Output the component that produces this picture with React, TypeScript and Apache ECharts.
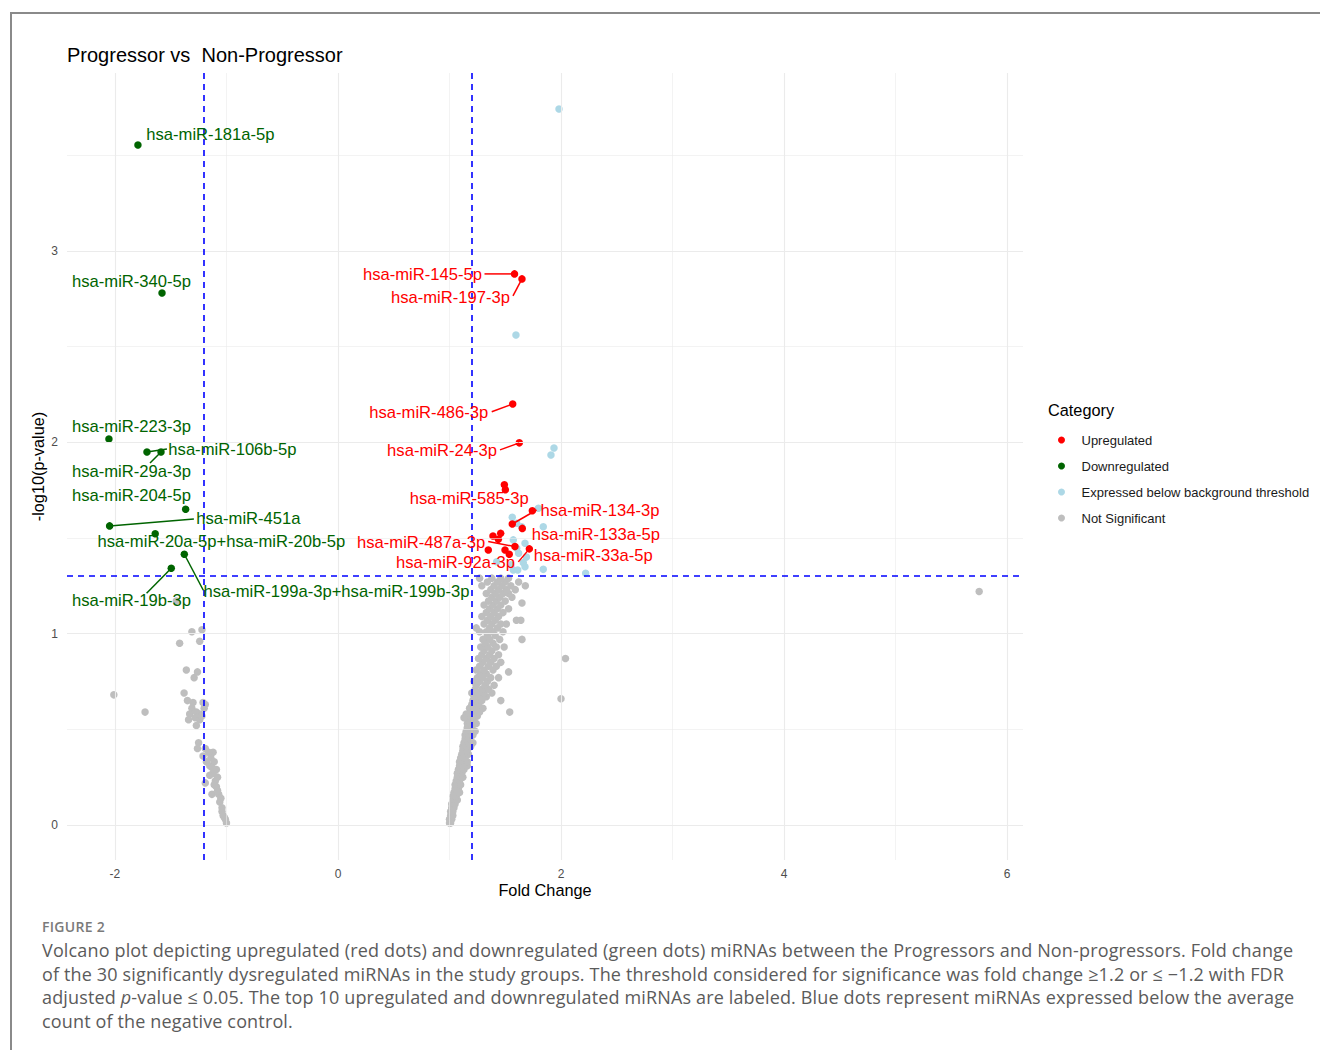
import React, { useEffect, useRef } from "react";
import * as echarts from "echarts";

const TITLE = "Progressor vs  Non-Progressor";
const X_NAME = "Fold Change";
const Y_NAME = "-log10(p-value)";
const LEGEND_TITLE = "Category";
const CATEGORIES = [
  "Upregulated",
  "Downregulated",
  "Expressed below background threshold",
  "Not Significant",
];
const X_TICKS = [-2, 0, 2, 4, 6];
const Y_TICKS = [0, 1, 2, 3];
const X_MINOR = [-1, 1, 3, 5];
const Y_MINOR = [0.5, 1.5, 2.5, 3.5];
const FC_THRESHOLDS = [-1.2, 1.2];
const P_THRESHOLD = 1.301;

// [fold change, -log10 p, label]
const upregulated: [number, number, string][] = [
  [1.583, 2.88, "hsa-miR-145-5p"],
  [1.65, 2.854, "hsa-miR-197-3p"],
  [1.567, 2.2, "hsa-miR-486-3p"],
  [1.626, 1.997, "hsa-miR-24-3p"],
  [1.492, 1.778, ""],
  [1.501, 1.752, "hsa-miR-585-3p"],
  [1.743, 1.642, ""],
  [1.563, 1.573, "hsa-miR-134-3p"],
  [1.653, 1.55, "hsa-miR-133a-5p"],
  [1.459, 1.524, ""],
  [1.438, 1.493, ""],
  [1.39, 1.51, ""],
  [1.587, 1.455, "hsa-miR-487a-3p"],
  [1.716, 1.443, "hsa-miR-92a-3p"],
  [1.348, 1.437, ""],
  [1.498, 1.437, ""],
  [1.536, 1.415, "hsa-miR-33a-5p"],
];

const downregulated: [number, number, string][] = [
  [-1.794, 3.554, "hsa-miR-181a-5p"],
  [-1.578, 2.78, "hsa-miR-340-5p"],
  [-2.054, 2.017, "hsa-miR-223-3p"],
  [-1.713, 1.949, "hsa-miR-106b-5p"],
  [-1.587, 1.949, "hsa-miR-29a-3p"],
  [-1.366, 1.65, "hsa-miR-204-5p"],
  [-2.048, 1.563, "hsa-miR-451a"],
  [-1.639, 1.522, "hsa-miR-20a-5p+hsa-miR-20b-5p"],
  [-1.378, 1.415, "hsa-miR-199a-3p+hsa-miR-199b-3p"],
  [-1.495, 1.342, "hsa-miR-19b-3p"],
];

const belowBackground: [number, number][] = [
  [1.982, 3.742], [1.596, 2.561], [1.937, 1.97], [1.91, 1.934],
  [1.797, 1.655], [1.563, 1.608], [1.603, 1.577], [1.647, 1.559],
  [1.841, 1.559], [1.572, 1.49], [1.677, 1.472], [1.603, 1.446],
  [1.662, 1.371], [1.677, 1.35], [1.572, 1.333], [1.612, 1.333],
  [1.841, 1.336], [2.221, 1.315], [1.423, 1.376], [1.62, 1.42],
  [1.69, 1.4], [1.55, 1.36],
];

const notSignificant: [number, number][] = [
  // left arm
  [-2.01, 0.68], [-1.73, 0.59], [-1.45, 1.17], [-1.42, 0.95], [-1.31, 1.01],
  [-1.24, 0.96], [-1.22, 1.02], [-1.36, 0.81], [-1.29, 0.77], [-1.26, 0.8],
  [-1.38, 0.69], [-1.35, 0.65], [-1.21, 0.64], [-1.19, 0.63], [-1.31, 0.61],
  [-1.33, 0.58], [-1.27, 0.59], [-1.24, 0.58], [-1.34, 0.55], [-1.28, 0.56],
  [-1.24, 0.55], [-1.27, 0.52], [-1.25, 0.43], [-1.26, 0.4], [-1.19, 0.4],
  [-1.12, 0.38], [-1.21, 0.36], [-1.18, 0.33], [-1.15, 0.31], [-1.09, 0.29],
  [-1.12, 0.27], [-1.19, 0.22], [-1.1, 0.23], [-1.09, 0.2], [-1.13, 0.16],
  [-1.07, 0.16], [-1.06, 0.12], [-1.04, 0.09], [-1.04, 0.07], [-1.02, 0.04],
  [-1.0, 0.01], [-1.16, 0.38], [-1.14, 0.35], [-1.11, 0.33], [-1.13, 0.3],
  [-1.08, 0.25], [-1.15, 0.26], [-1.11, 0.21], [-1.08, 0.18], [-1.05, 0.14],
  [-1.03, 0.05], [-1.01, 0.03], [-1.2, 0.61], [-1.22, 0.57], [-1.3, 0.64],
  // right arm
  [1.0, 0.01], [1.01, 0.01], [1.0, 0.03], [1.02, 0.03], [1.01, 0.05], [1.03, 0.05],
  [1.01, 0.07], [1.03, 0.07], [1.02, 0.09], [1.04, 0.09], [1.02, 0.11], [1.05, 0.11],
  [1.03, 0.13], [1.05, 0.13], [1.07, 0.13], [1.03, 0.15], [1.06, 0.15],
  [1.04, 0.17], [1.07, 0.17], [1.09, 0.17], [1.05, 0.19], [1.08, 0.19],
  [1.05, 0.21], [1.07, 0.21], [1.1, 0.21], [1.06, 0.23], [1.09, 0.23],
  [1.07, 0.25], [1.1, 0.25], [1.12, 0.25], [1.07, 0.27], [1.11, 0.27],
  [1.08, 0.29], [1.1, 0.29], [1.13, 0.29], [1.09, 0.31], [1.12, 0.31], [1.16, 0.31],
  [1.09, 0.33], [1.13, 0.33], [1.16, 0.33], [1.1, 0.35], [1.14, 0.35],
  [1.11, 0.37], [1.13, 0.37], [1.17, 0.37], [1.12, 0.39], [1.16, 0.39],
  [1.12, 0.41], [1.15, 0.41], [1.19, 0.41], [1.13, 0.43], [1.17, 0.43], [1.21, 0.43],
  [1.14, 0.45], [1.18, 0.45], [1.14, 0.47], [1.17, 0.47], [1.21, 0.47],
  [1.15, 0.49], [1.19, 0.49], [1.23, 0.49], [1.16, 0.51], [1.2, 0.51],
  [1.16, 0.53], [1.19, 0.53], [1.24, 0.53], [1.17, 0.55], [1.22, 0.55],
  [1.15, 0.57], [1.18, 0.57], [1.25, 0.57], [1.19, 0.59], [1.22, 0.59], [1.27, 0.59], [1.54, 0.59],
  [1.18, 0.61], [1.24, 0.61], [1.3, 0.61], [1.2, 0.63], [1.26, 0.63],
  [1.21, 0.65], [1.24, 0.65], [1.29, 0.65], [1.46, 0.65], [1.22, 0.67], [1.28, 0.67], [1.33, 0.67],
  [1.2, 0.69], [1.25, 0.69], [1.31, 0.69], [1.38, 0.69], [1.23, 0.71], [1.29, 0.71], [1.35, 0.71],
  [1.24, 0.73], [1.32, 0.73], [1.4, 0.73], [1.22, 0.75], [1.27, 0.75], [1.34, 0.75],
  [1.25, 0.77], [1.3, 0.77], [1.37, 0.77], [1.44, 0.77], [1.28, 0.79], [1.33, 0.79], [1.53, 0.8],
  [1.24, 0.81], [1.31, 0.81], [1.39, 0.81], [1.27, 0.83], [1.35, 0.83], [1.42, 0.83],
  [1.3, 0.85], [1.37, 0.85], [1.46, 0.85], [1.26, 0.87], [1.33, 0.87], [1.4, 0.87],
  [1.29, 0.89], [1.36, 0.89], [1.44, 0.89], [1.31, 0.91], [1.38, 0.91],
  [1.28, 0.93], [1.34, 0.93], [1.42, 0.93], [1.49, 0.93], [1.32, 0.95], [1.39, 0.95],
  [1.3, 0.97], [1.36, 0.97], [1.45, 0.97], [1.65, 0.97], [1.34, 0.99], [1.41, 0.99],
  [1.27, 1.01], [1.33, 1.01], [1.39, 1.01], [1.48, 1.01], [1.24, 1.03], [1.36, 1.03], [1.43, 1.03],
  [1.31, 1.05], [1.38, 1.05], [1.46, 1.05], [1.51, 1.05], [1.34, 1.07], [1.41, 1.07], [1.6, 1.07], [1.64, 1.07],
  [1.29, 1.09], [1.37, 1.09], [1.44, 1.09], [1.33, 1.11], [1.4, 1.11], [1.48, 1.11],
  [1.36, 1.13], [1.43, 1.13], [1.53, 1.13], [1.31, 1.15], [1.39, 1.15], [1.46, 1.15], [1.65, 1.16],
  [1.35, 1.17], [1.42, 1.17], [1.5, 1.17], [1.38, 1.19], [1.45, 1.19], [1.56, 1.19],
  [1.33, 1.21], [1.41, 1.21], [1.48, 1.21], [1.53, 1.21], [1.37, 1.23], [1.44, 1.23], [1.51, 1.23], [1.59, 1.23],
  [1.29, 1.25], [1.4, 1.25], [1.47, 1.25], [1.55, 1.25], [1.68, 1.25],
  [1.34, 1.27], [1.43, 1.27], [1.5, 1.27], [1.62, 1.27], [1.27, 1.29], [1.38, 1.29], [1.46, 1.29], [1.53, 1.29],
  [1.15, 0.58], [1.13, 0.56], [2.04, 0.87], [2.0, 0.66], [5.75, 1.22],
];

// label placement: text-centre offset (dx, dy) and optional segment end (sx, sy), in pixels from the point
const LABEL_LAYOUT: Record<string, [number, number, number | null, number | null]> = {
  "hsa-miR-181a-5p": [72.5, -10, null, null],
  "hsa-miR-340-5p": [-30.5, -12, null, null],
  "hsa-miR-223-3p": [22.5, -13, null, null],
  "hsa-miR-106b-5p": [85.5, -3, 20, -3],
  "hsa-miR-29a-3p": [-29.5, 19, -11, 11],
  "hsa-miR-204-5p": [-54.2, -13.3, null, null],
  "hsa-miR-451a": [138.8, -7, 84.3, -7],
  "hsa-miR-20a-5p+hsa-miR-20b-5p": [66.2, 7.8, null, null],
  "hsa-miR-199a-3p+hsa-miR-199b-3p": [152.2, 37.7, 19, 36],
  "hsa-miR-19b-3p": [-39.8, 32.7, -24.7, 25],
  "hsa-miR-145-5p": [-92, 1, -30, 0],
  "hsa-miR-197-3p": [-71.5, 19, -9, 17],
  "hsa-miR-486-3p": [-83.9, 8.7, -21, 7.7],
  "hsa-miR-24-3p": [-77.3, 8, -19.3, 7],
  "hsa-miR-585-3p": [-36.1, 8.3, null, null],
  "hsa-miR-134-3p": [87.7, -13, 24.3, -14],
  "hsa-miR-133a-5p": [73.5, 5.7, null, null],
  "hsa-miR-487a-3p": [-93.8, -4.4, -26.7, -5],
  "hsa-miR-92a-3p": [-73.8, 13.7, -11, 13],
  "hsa-miR-33a-5p": [84, 1.7, null, null],
};

const CAPTION_HEAD = "FIGURE 2";
const CAPTION_LINES = [
  "Volcano plot depicting upregulated (red dots) and downregulated (green dots) miRNAs between the Progressors and Non-progressors. Fold change",
  "of the 30 significantly dysregulated miRNAs in the study groups. The threshold considered for significance was fold change \u22651.2 or \u2264 \u22121.2 with FDR",
  "adjusted p-value \u2264 0.05. The top 10 upregulated and downregulated miRNAs are labeled. Blue dots represent miRNAs expressed below the average",
  "count of the negative control.",
];

const COLORS = ["#FF0000", "#006400", "#ADD8E6", "#BEBEBE"];
const FONT = '"Liberation Sans", Arial, sans-serif';

export default function App() {
  const ref = useRef<HTMLDivElement>(null);

  useEffect(() => {
    if (!ref.current) return;
    const chart = echarts.init(ref.current, null, { renderer: "svg" });

    const labeled = [
      ...upregulated.filter((d) => d[2]).map((d) => ({ value: [d[0], d[1]], name: d[2], color: COLORS[0] })),
      ...downregulated.filter((d) => d[2]).map((d) => ({ value: [d[0], d[1]], name: d[2], color: COLORS[1] })),
    ];

    const gridLine = (axis: "xAxis" | "yAxis", v: number, major: boolean) => ({
      [axis]: v,
      lineStyle: { color: "#EBEBEB", width: major ? 1.1 : 0.6, type: "solid" },
    });

    const option: any = {
      animation: false,
      textStyle: { fontFamily: FONT },
      title: {
        text: TITLE,
        left: 62,
        top: 40,
        textStyle: { fontFamily: FONT, fontSize: 20, fontWeight: "normal", color: "#000" },
      },
      graphic: [
        {
          type: "text",
          left: 1048,
          top: 402,
          style: { text: LEGEND_TITLE, fontFamily: FONT, fontSize: 16.3, fill: "#000" },
        },
      ],
      legend: {
        orient: "vertical",
        left: 1053,
        top: 427,
        icon: "circle",
        itemWidth: 30,
        itemHeight: 7,
        itemGap: 10,
        data: CATEGORIES,
        selectedMode: false,
        textStyle: { fontFamily: FONT, fontSize: 13, color: "#1a1a1a", lineHeight: 16, padding: [0, 0, 0, 0] },
      },
      grid: { left: 67, top: 73, width: 956, height: 787 },
      xAxis: {
        type: "value",
        min: -2.43,
        max: 6.143,
        name: X_NAME,
        nameLocation: "middle",
        nameGap: 22,
        nameMoveOverlap: false,
        nameTextStyle: { fontFamily: FONT, fontSize: 16.3, color: "#000", verticalAlign: "top" },
        axisLine: { show: false },
        axisTick: { show: false, customValues: X_TICKS },
        splitLine: { show: false },
        axisLabel: { customValues: X_TICKS, color: "#4D4D4D", fontSize: 12, fontFamily: FONT, margin: 8 },
      },
      yAxis: {
        type: "value",
        min: -0.183,
        max: 3.93,
        name: Y_NAME,
        nameLocation: "middle",
        nameGap: 21,
        nameMoveOverlap: false,
        nameRotate: 90,
        nameTextStyle: { fontFamily: FONT, fontSize: 16.3, color: "#000", verticalAlign: "bottom" },
        axisLine: { show: false },
        axisTick: { show: false, customValues: Y_TICKS },
        splitLine: { show: false },
        axisLabel: { customValues: Y_TICKS, color: "#4D4D4D", fontSize: 12, fontFamily: FONT, margin: 9 },
      },
      series: [
        {
          type: "scatter",
          name: "__grid",
          data: [],
          silent: true,
          z: 0,
          markLine: {
            silent: true,
            symbol: ["none", "none"],
            label: { show: false },
            animation: false,
            data: [
              ...X_MINOR.map((v) => gridLine("xAxis", v, false)),
              ...Y_MINOR.map((v) => gridLine("yAxis", v, false)),
              ...X_TICKS.map((v) => gridLine("xAxis", v, true)),
              ...Y_TICKS.map((v) => gridLine("yAxis", v, true)),
            ],
          },
        },
        {
          type: "scatter",
          name: CATEGORIES[3],
          data: notSignificant,
          symbolSize: 7.5,
          itemStyle: { color: COLORS[3], opacity: 1 },
          z: 2,
        },
        {
          type: "scatter",
          name: CATEGORIES[2],
          data: belowBackground,
          symbolSize: 7.5,
          itemStyle: { color: COLORS[2], opacity: 1 },
          z: 3,
        },
        {
          type: "scatter",
          name: CATEGORIES[0],
          data: upregulated.map((d) => [d[0], d[1]]),
          symbolSize: 7.5,
          itemStyle: { color: COLORS[0], opacity: 1 },
          z: 4,
        },
        {
          type: "scatter",
          name: CATEGORIES[1],
          data: downregulated.map((d) => [d[0], d[1]]),
          symbolSize: 7.5,
          itemStyle: { color: COLORS[1], opacity: 1 },
          z: 4,
        },
        {
          type: "scatter",
          name: "__thresholds",
          data: [],
          silent: true,
          z: 5,
          markLine: {
            silent: true,
            symbol: ["none", "none"],
            label: { show: false },
            animation: false,
            lineStyle: { color: "#0000FF", width: 1.6, type: [6, 5] },
            data: [
              ...FC_THRESHOLDS.map((v) => ({ xAxis: v })),
              { yAxis: P_THRESHOLD },
            ],
          },
        },
        {
          type: "custom",
          name: "__labels",
          silent: true,
          z: 10,
          data: labeled.map((d) => ({ value: d.value, name: d.name })),
          renderItem: (params: any, api: any) => {
            const d = labeled[params.dataIndex];
            const lay = LABEL_LAYOUT[d.name] || [0, -12, null, null];
            const p = api.coord([api.value(0), api.value(1)]);
            const children: any[] = [];
            if (lay[2] !== null && lay[3] !== null) {
              children.push({
                type: "line",
                shape: { x1: p[0], y1: p[1], x2: p[0] + (lay[2] as number), y2: p[1] + (lay[3] as number) },
                style: { stroke: d.color, lineWidth: 1.5 },
              });
            }
            children.push({
              type: "text",
              x: p[0] + lay[0],
              y: p[1] + lay[1],
              style: {
                text: d.name,
                fill: d.color,
                fontFamily: FONT,
                fontSize: 16.6,
                align: "center",
                verticalAlign: "middle",
              },
            });
            return { type: "group", children };
          },
        },
      ],
    };

    chart.setOption(option);
    return () => chart.dispose();
  }, []);

  return (
    <div style={{ position: "fixed", left: 0, top: 0, width: 1320, height: 1050, background: "#fff", overflow: "hidden" }}>
      <div
        style={{
          position: "absolute",
          left: 10,
          top: 12,
          width: 1320,
          height: 1050,
          borderTop: "2px solid #8a8a8a",
          borderLeft: "2px solid #8a8a8a",
        }}
      />
      <div ref={ref} style={{ position: "absolute", left: 0, top: 0, width: 1320, height: 905 }} />
      <div
        style={{
          position: "absolute",
          left: 42,
          top: 917,
          fontFamily: '"Open Sans", "Noto Sans", sans-serif',
          fontSize: 14,
          fontWeight: 600,
          color: "#7a7a7a",
          letterSpacing: 0.3,
        }}
      >
        {CAPTION_HEAD}
      </div>
      <div
        style={{
          position: "absolute",
          left: 42,
          top: 939,
          fontFamily: '"Open Sans", "Noto Sans", sans-serif',
          fontSize: 18,
          letterSpacing: 0.15,
          lineHeight: "23.6px",
          color: "#5b5b5b",
          whiteSpace: "nowrap",
        }}
      >
        {CAPTION_LINES.map((l, i) => (
          <div key={i}>
            {i === 2 ? (
              <>
                adjusted <i>p</i>
                {l.slice("adjusted p".length)}
              </>
            ) : (
              l
            )}
          </div>
        ))}
      </div>
    </div>
  );
}
